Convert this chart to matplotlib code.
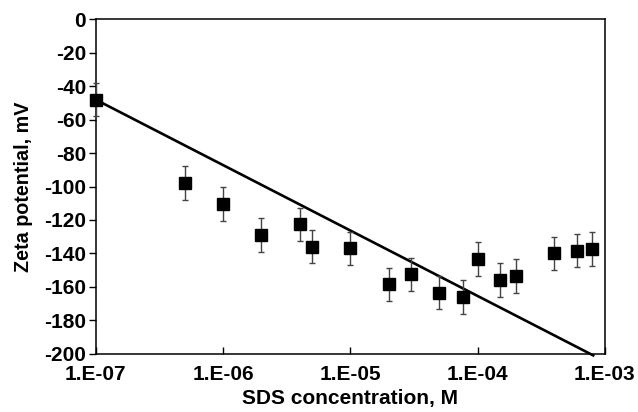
import numpy as np
import matplotlib
matplotlib.use("Agg")
import matplotlib.pyplot as plt
from matplotlib.ticker import FixedLocator, FuncFormatter, NullLocator

# measured zeta potential vs SDS concentration
conc = [1e-7, 5e-7, 1e-6, 2e-6, 4e-6, 5e-6, 1e-5, 2e-5, 3e-5, 5e-5, 7.7e-5,
        1e-4, 1.5e-4, 2e-4, 4e-4, 6e-4, 8e-4]
zeta = [-48, -98, -110.5, -129, -122.6, -136, -137, -158.5, -152.5, -163.5, -166,
        -143.4, -156, -153.5, -140, -138.4, -137.4]
err = [10] * len(zeta)

# straight fit line (ends)
fit_x = [1e-7, 8.1e-4]
fit_y = [-48, -201]

plt.rcParams['font.family'] = ['Liberation Sans', 'DejaVu Sans']
plt.rcParams['font.weight'] = 'bold'
plt.rcParams['axes.unicode_minus'] = False

fig = plt.figure(figsize=(6.38, 4.12), dpi=100)
ax = fig.add_axes([0.15, 0.1415, 0.798, 0.8115])

ax.plot(fit_x, fit_y, color='black', lw=1.9, zorder=2, clip_on=False)
ax.errorbar(conc, zeta, yerr=err, fmt='none', ecolor='#444444', elinewidth=1.0,
            capsize=2.5, capthick=1.0, zorder=3, clip_on=False)
ax.plot(conc, zeta, 's', color='black', markersize=8.5, zorder=4, clip_on=False)

ax.set_xscale('log')
ax.set_xlim(1e-7, 1e-3)
ax.set_ylim(-200, 0)
ax.xaxis.set_major_locator(FixedLocator([1e-7, 1e-6, 1e-5, 1e-4, 1e-3]))
ax.xaxis.set_minor_locator(NullLocator())
ax.xaxis.set_major_formatter(FuncFormatter(lambda v, p: "1.E-%02d" % round(-np.log10(v))))
ax.set_yticks(np.arange(-200, 1, 20))

ax.tick_params(axis='x', direction='in', length=5, width=1, labelsize=15, pad=8)
ax.tick_params(axis='y', direction='out', length=5, width=1, labelsize=15, pad=2)
for s in ax.spines.values():
    s.set_linewidth(1.1)

ax.set_xlabel("SDS concentration, M", fontsize=15, fontweight='bold', labelpad=4)
ax.set_ylabel("Zeta potential, mV", fontsize=14.2, fontweight='bold', labelpad=8)

fig.savefig("out.png", dpi=100)
